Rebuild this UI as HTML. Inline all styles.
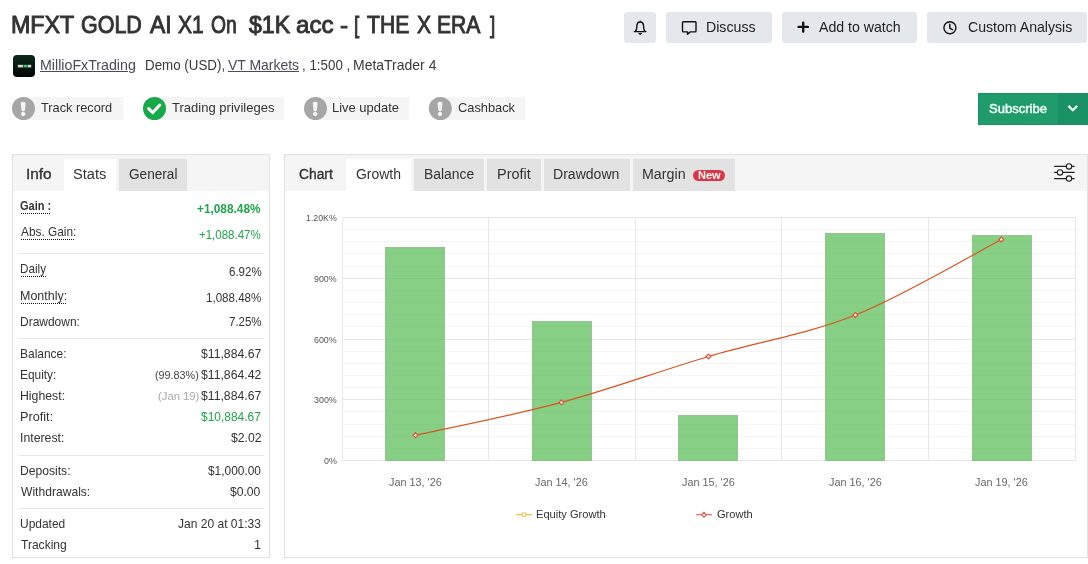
<!DOCTYPE html>
<html><head><meta charset="utf-8">
<style>
*{box-sizing:border-box;margin:0;padding:0}
html,body{width:1088px;height:564px;overflow:hidden;background:#fff}
body{font-family:"Liberation Sans",sans-serif;color:#333;position:relative}
.a{position:absolute}
.t{position:absolute;white-space:nowrap;line-height:1;transform-origin:0 0}
.t.u{text-decoration:underline}
.dl{position:absolute;height:1px;background:repeating-linear-gradient(90deg,#161616 0 1px,transparent 1px 2px)}
.btn{position:absolute;top:12px;height:31px;background:#e4e7ec;border-radius:3px}
.pill{position:absolute;top:97px;height:23px;background:#f5f5f5}
.panel{position:absolute;border:1px solid #e2e2e2;background:#fff}
.ph{position:absolute;left:0;top:0;right:0;height:36px;background:#f5f5f5}
.tab{position:absolute;top:4px;height:32px}
.tab.g{background:#e2e2e2}
.tab.w{background:#fff}
.hr{position:absolute;left:18px;width:246px;height:1px;background:#e8e8e8}
</style></head><body>

<!-- top buttons -->
<div class="btn" style="left:624px;width:32px"></div>
<div class="btn" style="left:666px;width:106px"></div>
<div class="btn" style="left:782px;width:135px"></div>
<div class="btn" style="left:927px;width:160px"></div>

<!-- badges -->
<div class="pill" style="left:24px;width:99px"></div>
<div class="pill" style="left:154px;width:130px"></div>
<div class="pill" style="left:316px;width:93px"></div>
<div class="pill" style="left:440px;width:85px"></div>

<!-- subscribe -->
<div class="a" style="left:978px;top:93px;width:110px;height:32px;background:#209c6c;border-top:1px solid #1a9065;border-bottom:1px solid #1a9065;border-left:1px solid #1a9065"></div>
<div class="a" style="left:1058px;top:93px;width:30px;height:32px;background:#1a9065"></div>

<!-- left panel -->
<div class="panel" style="left:12px;top:154px;width:258px;height:404px">
 <div class="ph">
  <div class="tab w" style="left:51px;width:52px"></div>
  <div class="tab g" style="left:106px;width:68px"></div>
 </div>
</div>
<div class="hr" style="top:253px"></div>
<div class="hr" style="top:338px"></div>
<div class="hr" style="top:455px"></div>
<div class="hr" style="top:508px"></div>

<!-- right panel -->
<div class="panel" style="left:284px;top:154px;width:804px;height:404px">
 <div class="ph">
  <div class="tab w" style="left:61px;width:65px"></div>
  <div class="tab g" style="left:129px;width:70px"></div>
  <div class="tab g" style="left:202px;width:54px"></div>
  <div class="tab g" style="left:259px;width:86px"></div>
  <div class="tab g" style="left:348px;width:102px"></div>
 </div>
</div>
<div class="a" style="left:693px;top:170px;width:32px;height:11px;border-radius:6px;background:#dc3545"></div>

<svg class="a" style="left:0;top:0" width="1088" height="564" viewBox="0 0 1088 564">
 <!-- avatar -->
 <defs><linearGradient id="av" x1="0" y1="0" x2="0" y2="1"><stop offset="0" stop-color="#0c2a1a"/><stop offset="1" stop-color="#020503"/></linearGradient></defs>
 <rect x="13" y="55" width="22" height="22" rx="4" fill="url(#av)"/>
 <rect x="17.8" y="64.8" width="5.3" height="2.6" fill="#cfd8d0"/><rect x="23.6" y="64.8" width="3.3" height="2.6" fill="#3fd06a"/><rect x="27.5" y="64.8" width="3.7" height="2.6" fill="#cfd8d0"/>
 <!-- bell -->
 <g fill="none" stroke="#111" stroke-width="1.5" stroke-linejoin="round" stroke-linecap="round">
  <path d="M634.3 31.6 H645.9 M635.4 31.5 C636.7 30 636.8 28.2 636.8 26.5 C636.8 23.8 638.2 22 640.2 22 C642.2 22 643.6 23.8 643.6 26.5 C643.6 28.2 643.7 30 645 31.5 M640.2 21.1 V22" stroke-width="1.4"/>
  <path d="M638.9 33.3 H641.7 L640.3 34.7 Z" fill="#111" stroke-width="0.6"/>
  <!-- chat -->
  <path d="M683.3 21.7 h11.9 a0.8 0.8 0 0 1 .8 .8 v8.6 a.8 .8 0 0 1 -.8 .8 h-4.9 l-2.8 2.4 v-2.4 h-4.2 a.8 .8 0 0 1 -.8 -.8 v-8.6 a.8 .8 0 0 1 .8 -.8z" stroke-width="1.4"/>
  <!-- clock -->
  <circle cx="949.9" cy="27.7" r="6" stroke-width="1.4"/>
  <path d="M949.8 24.3 V28.2 L952.4 29.6"/>
 </g>
 <!-- plus -->
 <path d="M798.6 26.9 H807.9 M803.2 22.8 V31.6" stroke="#111" stroke-width="2.4" stroke-linecap="round" fill="none"/>
 <!-- badge icons -->
 <g>
  <circle cx="23.5" cy="108.5" r="11.5" fill="#a6a6a6"/>
  <circle cx="154.5" cy="108.5" r="11.5" fill="#17a84a"/>
  <circle cx="315.5" cy="108.5" r="11.5" fill="#a6a6a6"/>
  <circle cx="440.3" cy="108.5" r="11.5" fill="#a6a6a6"/>
  <g fill="#f4f4f4">
   <path id="ex" d="M-2.5 102.7 Q0 100.9 2.5 102.7 L1.7 110.6 Q0 112 -1.7 110.6 Z M0 111.8 a2.2 2.2 0 1 0 0.001 0z" transform="translate(23.2 0)"/>
   <path d="M-2.5 102.7 Q0 100.9 2.5 102.7 L1.7 110.6 Q0 112 -1.7 110.6 Z M0 111.8 a2.2 2.2 0 1 0 0.001 0z" transform="translate(315.2 0)"/>
   <path d="M-2.5 102.7 Q0 100.9 2.5 102.7 L1.7 110.6 Q0 112 -1.7 110.6 Z M0 111.8 a2.2 2.2 0 1 0 0.001 0z" transform="translate(440 0)"/>
  </g>
  <path d="M148.6 108.6 l4.2 4 l7 -7.6" stroke-linejoin="round" stroke-linecap="round" stroke="#fff" stroke-width="3" fill="none"/>
 </g>
 <!-- chevron -->
 <path d="M1068.4 105.9 l4.4 4.3 l4.4 -4.3" stroke="#f2fff8" stroke-width="2.3" fill="none"/>
 <!-- sliders -->
 <g stroke="#222" stroke-width="1.1" fill="#f5f5f5">
  <path d="M1054.2 166.4 H1074.6 M1054.2 172.4 H1074.6 M1054.2 178.6 H1074.6"/>
  <circle cx="1069" cy="166.4" r="2.7"/><circle cx="1060" cy="172.4" r="2.7"/><circle cx="1069" cy="178.6" r="2.7"/>
 </g>
 <!-- chart grid -->
 <g shape-rendering="crispEdges">
  <g fill="#f5f5f5">
   <rect x="342" y="229" width="734" height="1"/><rect x="342" y="241" width="734" height="1"/><rect x="342" y="253" width="734" height="1"/><rect x="342" y="266" width="734" height="1"/><rect x="342" y="290" width="734" height="1"/><rect x="342" y="302" width="734" height="1"/><rect x="342" y="314" width="734" height="1"/><rect x="342" y="326" width="734" height="1"/><rect x="342" y="351" width="734" height="1"/><rect x="342" y="363" width="734" height="1"/><rect x="342" y="375" width="734" height="1"/><rect x="342" y="387" width="734" height="1"/><rect x="342" y="411" width="734" height="1"/><rect x="342" y="424" width="734" height="1"/><rect x="342" y="436" width="734" height="1"/><rect x="342" y="448" width="734" height="1"/>
  </g>
  <g fill="#e8e8e8">
   <rect x="342" y="217" width="734" height="1"/><rect x="342" y="278" width="734" height="1"/><rect x="342" y="339" width="734" height="1"/><rect x="342" y="399" width="734" height="1"/><rect x="342" y="460" width="734" height="1"/><rect x="342" y="217" width="1" height="244"/><rect x="488" y="217" width="1" height="244"/><rect x="635" y="217" width="1" height="244"/><rect x="781" y="217" width="1" height="244"/><rect x="928" y="217" width="1" height="244"/><rect x="1075" y="217" width="1" height="244"/>
  </g>
 </g>
 <g fill="#56ba52" fill-opacity="0.7" shape-rendering="crispEdges">
  <rect x="385" y="247" width="60" height="213.5"/>
  <rect x="532" y="321" width="60" height="139.5"/>
  <rect x="678" y="415" width="60" height="45.5"/>
  <rect x="825" y="233" width="60" height="227.5"/>
  <rect x="972" y="235" width="60" height="225.5"/>
 </g>
 <g fill="none" stroke="#b4a4b4" stroke-opacity="0.25" stroke-width="1">
  <path d="M385.5 460.5 V247.5 H444.5 V460.5"/>
  <path d="M532.5 460.5 V321.5 H591.5 V460.5"/>
  <path d="M678.5 460.5 V415.5 H737.5 V460.5"/>
  <path d="M825.5 460.5 V233.5 H884.5 V460.5"/>
  <path d="M972.5 460.5 V235.5 H1031.5 V460.5"/>
 </g>
 <path d="M415.5 435.3 C439.8 429.8 512.7 415.5 561.5 402.4 C610.3 389.3 659.5 371.1 708.5 356.5 C757.5 341.9 806.6 334.5 855.4 315 C904.2 295.5 977.0 252.1 1001.3 239.5" fill="none" stroke="#d9551f" stroke-width="1.25"/><path d="M415.5 432.90000000000003 l2.4 2.4 l-2.4 2.4 l-2.4 -2.4z" fill="#fff" stroke="#e4472e" stroke-width="1.1"/><path d="M561.5 400.0 l2.4 2.4 l-2.4 2.4 l-2.4 -2.4z" fill="#fff" stroke="#e4472e" stroke-width="1.1"/><path d="M708.5 354.1 l2.4 2.4 l-2.4 2.4 l-2.4 -2.4z" fill="#fff" stroke="#e4472e" stroke-width="1.1"/><path d="M855.4 312.6 l2.4 2.4 l-2.4 2.4 l-2.4 -2.4z" fill="#fff" stroke="#e4472e" stroke-width="1.1"/><path d="M1001.3 237.1 l2.4 2.4 l-2.4 2.4 l-2.4 -2.4z" fill="#fff" stroke="#e4472e" stroke-width="1.1"/>
 <!-- legend -->
 <path d="M516.2 514.7 H532" stroke="#f5c242" stroke-width="1.3"/><circle cx="524" cy="514.7" r="1.9" fill="#fff" stroke="#f5c242" stroke-width="1.1"/>
 <path d="M696.2 514.7 H712" stroke="#e46a6a" stroke-width="1.3"/><path d="M704 512.3 l2.4 2.4 l-2.4 2.4 l-2.4 -2.4z" fill="#fff" stroke="#e05252" stroke-width="1.1"/>
</svg>

<div class="dl" style="left:21px;top:213px;width:30px"></div><div class="dl" style="left:21px;top:239px;width:54px"></div><div class="dl" style="left:21px;top:276px;width:25px"></div><div class="dl" style="left:21px;top:303px;width:45px"></div>
<div class="a" style="left:0;top:0;width:1088px;height:564px;will-change:transform">
<span class="t" style="left:10.79px;top:13.00px;font-size:24px;color:#333;transform:scaleX(0.9688);-webkit-text-stroke:0.95px #333;">MFXT</span>
<span class="t" style="left:80.98px;top:13.00px;font-size:24px;color:#333;transform:scaleX(0.8949);-webkit-text-stroke:0.95px #333;">GOLD</span>
<span class="t" style="left:149.83px;top:13.00px;font-size:24px;color:#333;transform:scaleX(0.9546);-webkit-text-stroke:0.95px #333;">AI</span>
<span class="t" style="left:177.68px;top:13.00px;font-size:24px;color:#333;transform:scaleX(0.8743);-webkit-text-stroke:0.95px #333;">X1</span>
<span class="t" style="left:211.02px;top:13.00px;font-size:24px;color:#333;transform:scaleX(0.8036);-webkit-text-stroke:0.95px #333;">On</span>
<span class="t" style="left:248.75px;top:13.00px;font-size:24px;color:#333;transform:scaleX(0.9616);-webkit-text-stroke:0.95px #333;">$1K</span>
<span class="t" style="left:296.08px;top:13.00px;font-size:24px;color:#333;transform:scaleX(1.0074);-webkit-text-stroke:0.95px #333;">acc</span>
<span class="t" style="left:340.11px;top:13.00px;font-size:24px;color:#333;transform:scaleX(1.0150);-webkit-text-stroke:0.95px #333;">-</span>
<span class="t" style="left:354.25px;top:13.00px;font-size:24px;color:#333;transform:scaleX(0.7809);-webkit-text-stroke:0.95px #333;">[</span>
<span class="t" style="left:367.00px;top:13.00px;font-size:24px;color:#333;transform:scaleX(0.8810);-webkit-text-stroke:0.95px #333;">THE</span>
<span class="t" style="left:416.90px;top:13.00px;font-size:24px;color:#333;transform:scaleX(0.8761);-webkit-text-stroke:0.95px #333;">X</span>
<span class="t" style="left:437.42px;top:13.00px;font-size:24px;color:#333;transform:scaleX(0.8795);-webkit-text-stroke:0.95px #333;">ERA</span>
<span class="t" style="left:489.54px;top:13.00px;font-size:24px;color:#333;transform:scaleX(0.7891);-webkit-text-stroke:0.95px #333;">]</span>
<span class="t" style="left:705.83px;top:19.00px;font-size:15px;color:#222;transform:scaleX(0.9435);">Discuss</span>
<span class="t" style="left:818.69px;top:19.00px;font-size:15px;color:#222;transform:scaleX(0.9419);">Add to watch</span>
<span class="t" style="left:967.53px;top:19.00px;font-size:15px;color:#222;transform:scaleX(0.9402);">Custom Analysis</span>
<span class="t u" style="left:39.83px;top:58.00px;font-size:14.5px;color:#4a4a58;transform:scaleX(0.9803);">MillioFxTrading</span>
<span class="t" style="left:145.24px;top:58.00px;font-size:14.5px;color:#3a3a3a;transform:scaleX(0.9211);">Demo (USD),</span>
<span class="t u" style="left:228.37px;top:58.00px;font-size:14.5px;color:#4a4a58;transform:scaleX(0.9618);">VT Markets</span>
<span class="t" style="left:302.40px;top:58.00px;font-size:14.5px;color:#3a3a3a;transform:scaleX(0.9203);">, 1:500 ,</span>
<span class="t" style="left:353.36px;top:58.00px;font-size:14.5px;color:#3a3a3a;transform:scaleX(0.9646);">MetaTrader 4</span>
<span class="t" style="left:41.07px;top:101.00px;font-size:13.5px;color:#333;transform:scaleX(0.9449);">Track record</span>
<span class="t" style="left:172.05px;top:101.00px;font-size:13.5px;color:#333;transform:scaleX(0.9662);">Trading privileges</span>
<span class="t" style="left:332.00px;top:101.00px;font-size:13.5px;color:#333;transform:scaleX(0.9589);">Live update</span>
<span class="t" style="left:457.69px;top:101.00px;font-size:13.5px;color:#333;transform:scaleX(0.9490);">Cashback</span>
<span class="t" style="left:989.40px;top:103.00px;font-size:12.5px;color:#f2fff8;transform:scaleX(1.0410);-webkit-text-stroke:0.45px #f2fff8;">Subscribe</span>
<span class="t" style="left:25.73px;top:167.00px;font-size:14px;color:#333;transform:scaleX(1.0982);-webkit-text-stroke:0.35px #333;">Info</span>
<span class="t" style="left:73.31px;top:167.00px;font-size:14px;color:#333;transform:scaleX(1.0442);">Stats</span>
<span class="t" style="left:129.36px;top:167.00px;font-size:14px;color:#333;transform:scaleX(0.9723);">General</span>
<span class="t" style="left:298.63px;top:167.00px;font-size:14px;color:#333;transform:scaleX(0.9865);-webkit-text-stroke:0.35px #333;">Chart</span>
<span class="t" style="left:356.31px;top:167.00px;font-size:14px;color:#333;transform:scaleX(0.9971);">Growth</span>
<span class="t" style="left:423.84px;top:167.00px;font-size:14px;color:#333;transform:scaleX(0.9920);">Balance</span>
<span class="t" style="left:496.50px;top:167.00px;font-size:14px;color:#333;transform:scaleX(1.0328);">Profit</span>
<span class="t" style="left:553.33px;top:167.00px;font-size:14px;color:#333;transform:scaleX(1.0041);">Drawdown</span>
<span class="t" style="left:642.27px;top:167.00px;font-size:14px;color:#333;transform:scaleX(1.0181);">Margin</span>
<span class="t" style="left:697.56px;top:171.00px;font-size:10px;color:#fff;transform:scaleX(1.1037);font-weight:bold;">New</span>
<span class="t" style="left:20.13px;top:200.00px;font-size:12.2px;color:#333;transform:scaleX(0.9049);font-weight:bold;">Gain :</span>
<span class="t" style="left:197.09px;top:203.00px;font-size:12.2px;color:#1fa64a;transform:scaleX(0.9711);font-weight:bold;">+1,088.48%</span>
<span class="t" style="left:20.71px;top:226.00px;font-size:12.2px;color:#333;transform:scaleX(0.9717);">Abs. Gain:</span>
<span class="t" style="left:198.97px;top:229.00px;font-size:12.2px;color:#1fa64a;transform:scaleX(0.9430);">+1,088.47%</span>
<span class="t" style="left:20.00px;top:263.00px;font-size:12.2px;color:#333;transform:scaleX(0.9608);">Daily</span>
<span class="t" style="left:229.09px;top:266.00px;font-size:12.2px;color:#333;transform:scaleX(0.9445);">6.92%</span>
<span class="t" style="left:20.00px;top:290.00px;font-size:12.2px;color:#333;transform:scaleX(1.0234);">Monthly:</span>
<span class="t" style="left:206.25px;top:292.00px;font-size:12.2px;color:#333;transform:scaleX(0.9488);">1,088.48%</span>
<span class="t" style="left:20.00px;top:316.00px;font-size:12.2px;color:#333;transform:scaleX(0.9821);">Drawdown:</span>
<span class="t" style="left:229.15px;top:316.00px;font-size:12.2px;color:#333;transform:scaleX(0.9428);">7.25%</span>
<span class="t" style="left:20.00px;top:348.00px;font-size:12.2px;color:#333;transform:scaleX(0.9821);">Balance:</span>
<span class="t" style="left:201.03px;top:348.00px;font-size:12.2px;color:#333;transform:scaleX(1.0024);">$11,884.67</span>
<span class="t" style="left:20.00px;top:369.00px;font-size:12.2px;color:#333;transform:scaleX(0.9744);">Equity:</span>
<span class="t" style="left:201.03px;top:369.00px;font-size:12.2px;color:#333;transform:scaleX(1.0025);">$11,864.42</span>
<span class="t" style="left:20.00px;top:390.00px;font-size:12.2px;color:#333;transform:scaleX(1.0077);">Highest:</span>
<span class="t" style="left:201.03px;top:390.00px;font-size:12.2px;color:#333;transform:scaleX(1.0024);">$11,884.67</span>
<span class="t" style="left:20.00px;top:411.00px;font-size:12.2px;color:#333;transform:scaleX(1.0424);">Profit:</span>
<span class="t" style="left:201.04px;top:411.00px;font-size:12.2px;color:#1fa64a;transform:scaleX(0.9802);">$10,884.67</span>
<span class="t" style="left:19.89px;top:432.00px;font-size:12.2px;color:#333;transform:scaleX(1.0092);">Interest:</span>
<span class="t" style="left:231.13px;top:432.00px;font-size:12.2px;color:#333;transform:scaleX(1.0037);">$2.02</span>
<span class="t" style="left:20.00px;top:465.00px;font-size:12.2px;color:#333;transform:scaleX(0.9951);">Deposits:</span>
<span class="t" style="left:207.80px;top:465.00px;font-size:12.2px;color:#333;transform:scaleX(0.9762);">$1,000.00</span>
<span class="t" style="left:20.78px;top:486.00px;font-size:12.2px;color:#333;transform:scaleX(0.9923);">Withdrawals:</span>
<span class="t" style="left:230.27px;top:486.00px;font-size:12.2px;color:#333;transform:scaleX(0.9952);">$0.00</span>
<span class="t" style="left:20.00px;top:518.00px;font-size:12.2px;color:#333;transform:scaleX(0.9820);">Updated</span>
<span class="t" style="left:177.76px;top:518.00px;font-size:12.2px;color:#333;transform:scaleX(0.9877);">Jan 20 at 01:33</span>
<span class="t" style="left:20.57px;top:539.00px;font-size:12.2px;color:#333;transform:scaleX(0.9877);">Tracking</span>
<span class="t" style="left:253.50px;top:539.00px;font-size:12.2px;color:#333;transform:scaleX(1.0348);">1</span>
<span class="t" style="left:155.16px;top:370.00px;font-size:11.2px;color:#444;transform:scaleX(0.9646);">(99.83%)</span>
<span class="t" style="left:157.61px;top:391.00px;font-size:11.2px;color:#a8a8a8;transform:scaleX(1.0080);">(Jan 19)</span>
<span class="t" style="left:306.06px;top:214.00px;font-size:9px;color:#555;transform:scaleX(0.9751);">1.20K%</span>
<span class="t" style="left:314.12px;top:275.00px;font-size:9px;color:#555;transform:scaleX(0.9843);">900%</span>
<span class="t" style="left:314.12px;top:336.00px;font-size:9px;color:#555;transform:scaleX(0.9844);">600%</span>
<span class="t" style="left:314.02px;top:396.00px;font-size:9px;color:#555;transform:scaleX(0.9876);">300%</span>
<span class="t" style="left:323.77px;top:457.00px;font-size:9px;color:#555;transform:scaleX(0.9891);">0%</span>
<span class="t" style="left:388.75px;top:477.00px;font-size:11px;color:#666;transform:scaleX(0.9854);">Jan 13, '26</span>
<span class="t" style="left:535.25px;top:477.00px;font-size:11px;color:#666;transform:scaleX(0.9854);">Jan 14, '26</span>
<span class="t" style="left:681.75px;top:477.00px;font-size:11px;color:#666;transform:scaleX(0.9854);">Jan 15, '26</span>
<span class="t" style="left:828.75px;top:477.00px;font-size:11px;color:#666;transform:scaleX(0.9854);">Jan 16, '26</span>
<span class="t" style="left:974.75px;top:477.00px;font-size:11px;color:#666;transform:scaleX(0.9854);">Jan 19, '26</span>
<span class="t" style="left:536.00px;top:509.00px;font-size:11px;color:#333;transform:scaleX(1.0096);">Equity Growth</span>
<span class="t" style="left:716.89px;top:509.00px;font-size:11px;color:#333;transform:scaleX(1.0051);">Growth</span>
</div>
</body></html>
